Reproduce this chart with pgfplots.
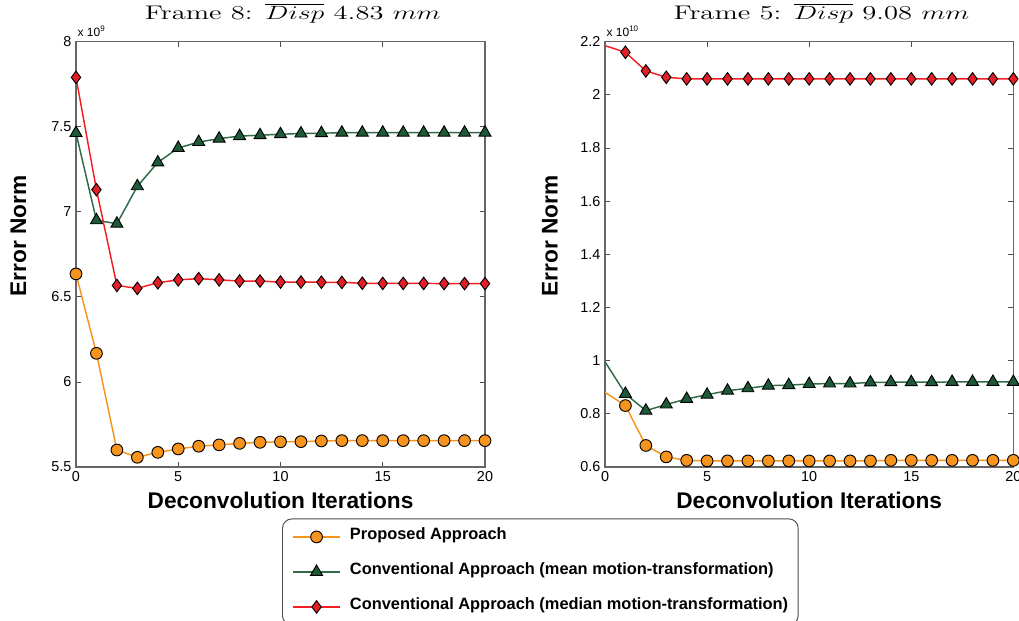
\documentclass[border=0pt]{standalone}
\usepackage{fontspec}
\setsansfont{Liberation Sans}
\usepackage{graphicx}
\usepackage{pgfplots}
\pgfplotsset{compat=1.18}

\definecolor{propC}{HTML}{F7941D}
\definecolor{meanLine}{HTML}{2F6B47}
\definecolor{meanFill}{HTML}{1F5A38}
\definecolor{medLine}{HTML}{F51E23}
\definecolor{medFill}{HTML}{E41E26}

\newcommand{\wide}[1]{\scalebox{1.45}[1]{#1}}

\pgfplotsset{
  errbase/.style={
    scale only axis,
    height=319pt,
    xmin=0, xmax=20,
    xtick={0,5,10,15,20},
    tick align=inside,
    major tick length=4pt,
    scaled ticks=false,
    clip mode=individual,
    axis line style={draw=black!60, line width=0.9pt},
    every tick/.style={black!70, line width=0.6pt},
    tick label style={font=\sffamily\fontsize{10.8}{13}\selectfont},
    /pgf/number format/assume math mode=true,
    title style={font=\fontsize{14.8}{18}\selectfont, anchor=base,
      at={(axis description cs:0.53,1)}, yshift=10.5pt},
    xlabel={Deconvolution Iterations},
    ylabel={Error Norm},
    label style={font=\sffamily\bfseries\fontsize{17}{20}\selectfont},
    xlabel style={at={(axis description cs:0.5,0)}, anchor=center, yshift=-24.75pt},
  },
  propStyle/.style={color=propC, draw=propC, line width=1.1pt, mark=*, mark size=4.4pt,
    mark options={fill=propC, draw=black, line width=0.7pt}},
  meanStyle/.style={color=meanLine, draw=meanLine, line width=1.1pt, mark=triangle*, mark size=5.2pt,
    mark options={fill=meanFill, draw=black, line width=0.7pt}},
  medStyle/.style={color=medLine, draw=medLine, line width=1.1pt, mark=diamond*, mark size=4.7pt,
    mark options={fill=medFill, draw=black, line width=0.7pt}},
}

\begin{document}
\begin{tikzpicture}
\useasboundingbox (0,0) rectangle (764.25pt,465pt);

% Frame 8
\begin{axis}[errbase,
  at={(57pt,114.75pt)}, anchor=south west,
  width=306.75pt,
  ymin=5.5, ymax=8,
  ytick={5.5,6,6.5,7,7.5,8},
  title={\wide{Frame 8: $\overline{Disp}$ 4.83 $mm$}},
  ylabel style={at={(axis description cs:-0.1406,0.5435)}, anchor=center},
  legend style={at={(axis description cs:0.5037,-0.121)}, anchor=north west,
    draw=black!70, line width=0.7pt, rounded corners=7pt,
    font=\sffamily\bfseries\fontsize{12.3}{14}\selectfont,
    inner xsep=7.5pt, inner ysep=6.5pt,
    row sep=12.25pt, column sep=7pt,
    nodes={inner sep=0pt, text height=9pt, text depth=5pt}},
  legend cell align=left,
  legend image code/.code={\draw[mark repeat=2, mark phase=2, #1, line width=0.9pt, rounded corners=0pt]
    plot coordinates {(0pt,0pt) (17.6pt,0pt) (35.2pt,0pt)};},
]
\addplot[propStyle] coordinates {
 (0,6.635) (1,6.168) (2,5.600) (3,5.557) (4,5.586) (5,5.606) (6,5.622)
 (7,5.630) (8,5.639) (9,5.645) (10,5.648) (11,5.649) (12,5.653) (13,5.655)
 (14,5.655) (15,5.655) (16,5.655) (17,5.655) (18,5.655) (19,5.655) (20,5.655)};
\addlegendentry{Proposed Approach}
\addplot[meanStyle] coordinates {
 (0,7.463) (1,6.950) (2,6.930) (3,7.150) (4,7.290) (5,7.375) (6,7.410)
 (7,7.430) (8,7.445) (9,7.450) (10,7.456) (11,7.460) (12,7.462) (13,7.465)
 (14,7.465) (15,7.465) (16,7.465) (17,7.465) (18,7.465) (19,7.465) (20,7.465)};
\addlegendentry{Conventional Approach (mean motion-transformation)}
\addplot[medStyle] coordinates {
 (0,7.790) (1,7.130) (2,6.567) (3,6.550) (4,6.583) (5,6.600) (6,6.607)
 (7,6.600) (8,6.593) (9,6.593) (10,6.587) (11,6.587) (12,6.586) (13,6.585)
 (14,6.580) (15,6.579) (16,6.579) (17,6.579) (18,6.578) (19,6.578) (20,6.578)};
\addlegendentry{Conventional Approach (median motion-transformation)}
\node[anchor=base west, inner sep=0pt, font=\sffamily\fontsize{9}{11}\selectfont]
  at (rel axis cs:0,1) [xshift=1pt, yshift=3.75pt] {x 10\textsuperscript{9}};
\end{axis}

% Frame 5
\begin{axis}[errbase,
  at={(453.75pt,114.75pt)}, anchor=south west,
  width=306.25pt,
  ymin=0.6, ymax=2.2,
  ytick={0.6,0.8,1,1.2,1.4,1.6,1.8,2,2.2},
  title={\wide{Frame 5: $\overline{Disp}$ 9.08 $mm$}},
  ylabel style={at={(axis description cs:-0.1347,0.5435)}, anchor=center},
]
\addplot[propStyle, mark phase=2] coordinates {
 (0,0.881) (1,0.831) (2,0.681) (3,0.638) (4,0.625) (5,0.623) (6,0.623)
 (7,0.623) (8,0.623) (9,0.623) (10,0.623) (11,0.623) (12,0.623) (13,0.623)
 (14,0.625) (15,0.625) (16,0.625) (17,0.625) (18,0.625) (19,0.625) (20,0.625)};
\addplot[meanStyle, mark phase=2] coordinates {
 (0,0.996) (1,0.875) (2,0.812) (3,0.835) (4,0.856) (5,0.872) (6,0.887)
 (7,0.896) (8,0.906) (9,0.908) (10,0.912) (11,0.914) (12,0.914) (13,0.918)
 (14,0.919) (15,0.919) (16,0.919) (17,0.920) (18,0.920) (19,0.920) (20,0.920)};
\addplot[medStyle, mark phase=2] coordinates {
 (0,2.185) (1,2.160) (2,2.090) (3,2.066) (4,2.060) (5,2.060) (6,2.060)
 (7,2.060) (8,2.060) (9,2.060) (10,2.060) (11,2.060) (12,2.060) (13,2.060)
 (14,2.060) (15,2.060) (16,2.060) (17,2.060) (18,2.060) (19,2.060) (20,2.060)};
\node[anchor=base west, inner sep=0pt, font=\sffamily\fontsize{9}{11}\selectfont]
  at (rel axis cs:0,1) [xshift=1pt, yshift=3.75pt] {x 10\textsuperscript{10}};
\end{axis}
\end{tikzpicture}
\end{document}
